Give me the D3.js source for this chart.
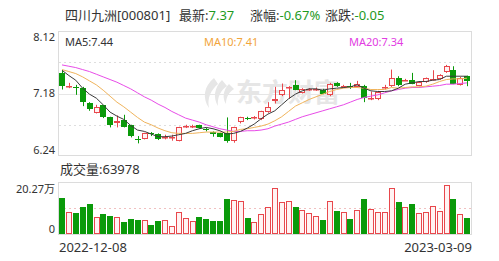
<!DOCTYPE html>
<meta charset="utf-8">
<style>
body { margin: 0; background: #fff; }
svg text { font-family: "Noto Sans", "Noto Sans CJK SC", sans-serif; }
</style>
<body>
<script src="https://d3js.org/d3.v7.min.js"></script>
<script>

// daily K-line, 2022-12-08 .. 2023-03-09 (60 sessions)
var opens  = [7.49,7.29,7.28,7.27,7.04,6.89,7.00,6.82,6.74,6.78, 6.70,6.49,6.50,6.58,6.57,6.52,6.51,6.47,6.68,6.68,
              6.70,6.65,6.60,6.58,6.58,6.47,6.75,6.81,6.81,6.79, 6.90,7.06,7.15,7.27,7.31,7.19,7.24,7.24,7.24,7.15,
              7.34,7.28,7.29,7.28,7.30,7.10,7.10,7.27,7.29,7.41, 7.38,7.39,7.30,7.35,7.39,7.40,7.50,7.54,7.31,7.44];
var highs  = [7.52,7.34,7.31,7.28,7.05,7.01,7.01,6.83,6.85,6.86, 6.71,6.54,6.59,6.60,6.58,6.56,6.56,6.68,6.71,6.71,
              6.71,6.66,6.61,6.59,6.82,6.68,6.83,6.83,6.84,6.92, 7.05,7.28,7.33,7.29,7.38,7.26,7.26,7.27,7.25,7.34,
              7.35,7.31,7.34,7.37,7.31,7.21,7.22,7.31,7.54,7.44, 7.40,7.49,7.36,7.42,7.53,7.47,7.61,7.59,7.43,7.45];
var lows   = [7.24,7.26,7.16,6.99,6.92,6.88,6.81,6.67,6.67,6.67, 6.52,6.43,6.49,6.54,6.48,6.49,6.47,6.46,6.66,6.66,
              6.65,6.61,6.53,6.52,6.44,6.44,6.73,6.78,6.79,6.78, 6.89,7.03,7.14,7.10,7.23,7.18,7.22,7.22,7.17,7.14,
              7.28,7.26,7.25,7.27,7.05,7.08,7.08,7.24,7.28,7.29, 7.37,7.32,7.29,7.34,7.38,7.39,7.49,7.32,7.30,7.29];
var closes = [7.29,7.30,7.27,7.05,6.94,6.97,6.82,6.70,6.77,6.68, 6.54,6.48,6.58,6.57,6.49,6.53,6.52,6.67,6.69,6.69,
              6.66,6.64,6.57,6.53,6.47,6.67,6.82,6.80,6.82,6.91, 6.98,7.10,7.23,7.28,7.24,7.25,7.25,7.25,7.18,7.33,
              7.30,7.29,7.28,7.33,7.11,7.11,7.21,7.28,7.41,7.31, 7.39,7.33,7.35,7.41,7.40,7.46,7.60,7.33,7.42,7.37];
// volume, 万手
var volumes = [13.9,8.58,8.19,10.66,11.82,6.76,7.8,7.02,6.76,4.68, 5.85,5.33,5.46,3.64,5.07,5.33,3.12,8.7,6.1,4.94,
               6.5,5.85,4.94,5.07,13.5,13.25,13.0,6.1,4.68,7.67, 10.4,18.06,12.34,12.73,10.66,9.23,8.19,6.89,5.46,12.73,
               8.97,8.45,5.85,9.36,13.51,9.88,8.45,8.45,17.8,12.47, 10.4,11.56,8.19,8.45,10.78,8.97,18.97,13.51,7.93,6.3978];
var ma5  = [7.53,7.45,7.38,7.26,7.17,7.11,7.01,6.90,6.84,6.79, 6.70,6.63,6.61,6.57,6.53,6.53,6.54,6.56,6.58,6.62,
            6.65,6.67,6.65,6.62,6.57,6.58,6.61,6.66,6.72,6.80, 6.87,6.92,7.01,7.10,7.17,7.22,7.25,7.25,7.23,7.25,
            7.26,7.27,7.28,7.31,7.26,7.22,7.21,7.21,7.22,7.26, 7.32,7.34,7.36,7.36,7.38,7.39,7.44,7.44,7.44,7.44];
var ma10 = [7.54,7.51,7.48,7.43,7.37,7.31,7.23,7.14,7.05,6.98, 6.90,6.82,6.75,6.71,6.66,6.62,6.59,6.58,6.58,6.58,
            6.59,6.60,6.60,6.60,6.60,6.61,6.64,6.65,6.67,6.69, 6.72,6.77,6.83,6.91,6.99,7.04,7.09,7.13,7.17,7.21,
            7.24,7.26,7.27,7.27,7.26,7.24,7.24,7.24,7.27,7.26, 7.27,7.28,7.28,7.29,7.32,7.36,7.39,7.40,7.40,7.41];
var ma20 = [7.61,7.59,7.57,7.54,7.51,7.47,7.43,7.39,7.35,7.30, 7.25,7.19,7.13,7.08,7.02,6.97,6.91,6.86,6.81,6.78,
            6.75,6.71,6.68,6.65,6.63,6.61,6.61,6.62,6.62,6.63, 6.65,6.69,6.72,6.75,6.79,6.83,6.86,6.89,6.92,6.95,
            6.98,7.01,7.05,7.09,7.12,7.14,7.16,7.19,7.22,7.24, 7.26,7.27,7.27,7.28,7.29,7.30,7.32,7.32,7.33,7.34];

var priceTicks = [6.24, 7.18, 8.12];
var volTop = 20.27;
var dateLabels = ["2022-12-08", "2023-03-09"];

var width = 499, height = 261;
var RED = "#e8474c", PINK = "#fff3f3", GREEN = "#0a9a0a", TXTGREEN = "#1e9a1e", TXT = "#333";

var svg = d3.select("body").append("svg")
    .attr("width", width)
    .attr("height", height);

var idx = d3.range(closes.length);

var x = d3.scaleBand()
    .domain(idx)
    .range([58.5, 470.5])
    .paddingInner(0.18)
    .paddingOuter(0.1);

var y = d3.scaleLinear().domain([priceTicks[0], priceTicks[2]]).range([156, 31]);
var yv = d3.scaleLinear().domain([0, volTop]).range([234, 182]);

function cx(i) { return Math.round(x(i) + x.bandwidth() / 2) + 0.5; }
var bw = Math.round(x.bandwidth());

// ---- header
var head = svg.append("text").attr("y", 20).style("font-size", "13px");
[["四川九洲[000801]", 65, TXT], ["最新:", 179, TXT], ["7.37", null, TXTGREEN],
 ["涨幅:", 250, TXT], ["-0.67%", null, TXTGREEN],
 ["涨跌:", 325, TXT], ["-0.05", null, TXTGREEN]].forEach(function(s) {
  var t = head.append("tspan").attr("fill", s[2]).text(s[0]);
  if (s[1] != null) t.attr("x", s[1]);
});

// ---- price frame & grid
svg.append("rect")
    .attr("x", 58.5).attr("y", 31.5).attr("width", 413).attr("height", 124)
    .attr("fill", "none").attr("stroke", "#dcdcdc");

var gridY = [d3.mean([y(priceTicks[2]), y(priceTicks[1])]), y(priceTicks[1]), d3.mean([y(priceTicks[1]), y(priceTicks[0])])];
svg.selectAll(".grid")
    .data(gridY)
  .enter().append("line")
    .attr("x1", 59).attr("x2", 471)
    .attr("y1", function(d) { return Math.round(d) + 0.5; })
    .attr("y2", function(d) { return Math.round(d) + 0.5; })
    .attr("stroke", function(d, i) { return i == 1 ? "#e6e6e6" : "#dedede"; })
    .attr("stroke-dasharray", function(d, i) { return i == 1 ? null : "2,3"; });

// watermark (logo + name)
var wm = svg.append("g").attr("fill", "#e6e6e6");
wm.append("path")
    .attr("d", "M214,78 C204,86 202,98 209,108 C207,98 211,90 218,84 Z M222,80 C214,88 213,98 218,106 C217,97 221,90 227,86 Z M229,84 C223,90 222,98 226,104 C226,97 229,92 234,89 Z");
wm.append("text")
    .attr("x", 236).attr("y", 102)
    .style("font-size", "26px").style("font-weight", "bold")
    .text("东方财富");

svg.selectAll(".ptick")
    .data(priceTicks)
  .enter().append("text")
    .attr("x", 55)
    .attr("y", function(d, i) { return y(d) + (i == 0 ? -6 : i == 2 ? 6 : 0); })
    .attr("dy", "0.35em")
    .attr("text-anchor", "end")
    .style("font-size", "11px")
    .attr("fill", TXT)
    .text(function(d) { return d.toFixed(2); });

// legend
var legend = [["MA5:" + ma5[ma5.length - 1].toFixed(2), "#333", 65],
              ["MA10:" + ma10[ma10.length - 1].toFixed(2), "#f2a53a", 204],
              ["MA20:" + ma20[ma20.length - 1].toFixed(2), "#e23de2", 349]];
svg.selectAll(".leg")
    .data(legend)
  .enter().append("text")
    .attr("x", function(d) { return d[2]; })
    .attr("y", 42)
    .attr("dy", "0.35em")
    .style("font-size", "11px")
    .attr("fill", function(d) { return d[1]; })
    .text(function(d) { return d[0]; });

// ---- candles
var candle = svg.append("g").selectAll("g")
    .data(idx)
  .enter().append("g");

candle.each(function(i) {
  var g = d3.select(this);
  var up = closes[i] >= opens[i];
  var top = Math.round(y(Math.max(opens[i], closes[i])));
  var bot = Math.round(y(Math.min(opens[i], closes[i])));
  if (bot - top < 1) bot = top + 1;
  var c = cx(i), left = Math.round(x(i));
  if (up) {
    g.append("line").attr("x1", c).attr("x2", c)
      .attr("y1", y(highs[i])).attr("y2", top).attr("stroke", RED);
    g.append("line").attr("x1", c).attr("x2", c)
      .attr("y1", bot).attr("y2", y(lows[i])).attr("stroke", RED);
    g.append("rect")
      .attr("x", left + 0.5).attr("y", top + 0.5)
      .attr("width", bw - 1).attr("height", Math.max(bot - top - 1, 0.5))
      .attr("fill", PINK).attr("stroke", RED);
  } else {
    g.append("line").attr("x1", c).attr("x2", c)
      .attr("y1", y(highs[i])).attr("y2", y(lows[i])).attr("stroke", GREEN);
    g.append("rect")
      .attr("x", left).attr("y", top)
      .attr("width", bw).attr("height", bot - top)
      .attr("fill", GREEN);
  }
});

// ---- moving averages
var line = d3.line()
    .x(function(d, i) { return x(i) + x.bandwidth() / 2; })
    .y(function(d) { return y(d); });

[[ma20, "#e84ce8"], [ma10, "#f0b45c"], [ma5, "#3a3a3a"]].forEach(function(m) {
  svg.append("path")
      .datum(m[0])
      .attr("d", line)
      .attr("fill", "none")
      .attr("stroke", m[1])
      .attr("stroke-width", 1);
});

// ---- volume panel
svg.append("text")
    .attr("x", 60).attr("y", 169)
    .attr("dy", "0.35em")
    .style("font-size", "13px")
    .attr("fill", TXT)
    .text("成交量:" + Math.round(volumes[volumes.length - 1] * 10000));

svg.append("rect")
    .attr("x", 58.5).attr("y", 182.5).attr("width", 413).attr("height", 52)
    .attr("fill", "none").attr("stroke", "#dcdcdc");

svg.append("line")
    .attr("x1", 59).attr("x2", 471)
    .attr("y1", Math.round(yv(volTop / 2)) + 0.5).attr("y2", Math.round(yv(volTop / 2)) + 0.5)
    .attr("stroke", "#f0c0c0").attr("stroke-dasharray", "2,3");

svg.selectAll(".vtick")
    .data([volTop, 0])
  .enter().append("text")
    .attr("x", 55)
    .attr("y", function(d, i) { return i == 0 ? yv(d) + 7 : yv(d) - 5; })
    .attr("dy", "0.35em")
    .attr("text-anchor", "end")
    .style("font-size", "11px")
    .attr("fill", TXT)
    .text(function(d) { return d == 0 ? "0" : d + "万"; });

svg.append("g").selectAll("rect")
    .data(idx)
  .enter().append("rect")
    .each(function(i) {
      var up = closes[i] >= opens[i];
      var t = Math.round(yv(volumes[i]));
      var b = Math.round(yv(0));
      var el = d3.select(this);
      if (up) {
        el.attr("x", Math.round(x(i)) + 0.5).attr("y", t + 0.5)
          .attr("width", bw - 1).attr("height", b - t - 1)
          .attr("fill", PINK).attr("stroke", RED);
      } else {
        el.attr("x", Math.round(x(i))).attr("y", t)
          .attr("width", bw).attr("height", b - t)
          .attr("fill", GREEN);
      }
    });

// dates
svg.append("text")
    .attr("x", 59).attr("y", 247).attr("dy", "0.35em")
    .style("font-size", "13px").attr("fill", TXT)
    .text(dateLabels[0]);
svg.append("text")
    .attr("x", 472).attr("y", 247).attr("dy", "0.35em")
    .attr("text-anchor", "end")
    .style("font-size", "13px").attr("fill", TXT)
    .text(dateLabels[1]);

</script>
</body>
